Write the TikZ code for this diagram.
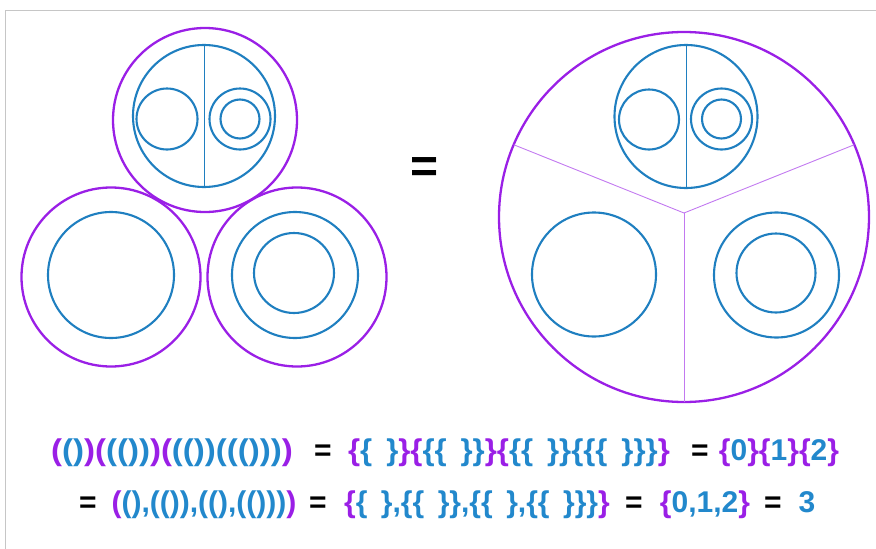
\documentclass[tikz,border=0pt]{standalone}
\usepackage{fontspec}
\setmainfont{Liberation Sans}
\definecolor{vnpur}{HTML}{9A1FE6}
\definecolor{vnblu}{HTML}{1F7FC0}
\definecolor{vntxt}{HTML}{2288CC}
\newcommand{\pu}[1]{\textcolor{vnpur}{#1}}
\newcommand{\bl}[1]{\textcolor{vntxt}{#1}}
\newcommand{\vngap}{\hspace{0.45em}}

\tikzset{vnouter/.style={circle,draw=vnpur,line width=2.3pt,inner sep=0pt,outer sep=0pt,minimum size=#1},
         vninner/.style={circle,draw=vnblu,line width=2.1pt,inner sep=0pt,outer sep=0pt,minimum size=#1},
         vnsplit/.style={draw=vnpur!60,line width=0.9pt},
         vnaxis/.style={draw=vnblu,line width=1pt},
         vnrow/.style={font=\fontsize{30}{32}\selectfont\bfseries,inner sep=0pt,text height=21.8pt,text depth=6.3pt}}

\begin{document}
\begin{tikzpicture}[x=1pt,y=-1pt]
    \useasboundingbox (0,0) rectangle (876,549);
    \draw[gray!45,line width=1pt] (876,10) -- (5,10) -- (5,549);
    % left: three separate circles
    \node[vnouter=184] (top) at (205,120) {};
    \node[vninner=142] (topin) at (204,116) {};
    \draw[vnaxis] (topin.north) -- (topin.south);
    \node[vninner=61] (topa) at (167,119) {};
    \node[vninner=61] (topb) at (240,119) {};
    \node[vninner=39] (topbb) at (240,119) {};
    \node[vnouter=179] (bl) at (111,277) {};
    \node[vninner=126] (blin) at (111,275) {};
    \node[vnouter=179] (br) at (297,277) {};
    \node[vninner=126] (brin) at (295,275) {};
    \node[vninner=80] (brinin) at (294,273) {};
    \node[font=\fontsize{48}{48}\selectfont\bfseries] (eqbig) at (425,170) {=};
    % right: one circle cut in three
    \node[vnouter=370] (big) at (684,217) {};
    \coordinate (hub) at (684,213);
    \foreach \a in {157,23,270} \draw[vnsplit] (hub) -- (big.\a);
    \node[vninner=143] (bigin) at (686,116.5) {};
    \draw[vnaxis] (bigin.north) -- (bigin.south);
    \node[vninner=60] (biga) at (649,119.5) {};
    \node[vninner=61] (bigb) at (721.5,119) {};
    \node[vninner=39] (bigbb) at (721.5,119) {};
    \node[vninner=124] (bigl) at (594,274.5) {};
    \node[vninner=125] (bigr) at (776.5,275) {};
    \node[vninner=79] (bigrr) at (776,273) {};
    % the two rows of text
    \foreach \x/\y/\n in {323/453/a,700/453/b,88/505/c,318/505/d,634/505/e,773/505/f}
      \node[vnrow] (eq\n) at (\x,\y) {=};
    \node[vnrow] (rowaparen) at (172,453) {\scalebox{1.1}[1]{\pu{(}\bl{()}\pu{)}\pu{(}\bl{(())}\pu{)}\pu{(}\bl{(())((()))}\pu{)}}};
    \node[vnrow] (rowabrace) at (509,453) {\scalebox{1.035}[1]{\pu{\{}\bl{\{\vngap\}}\pu{\}}\pu{\{}\bl{\{\{\vngap\}\}}\pu{\}}\pu{\{}\bl{\{\{\vngap\}\}\{\{\{\vngap\}\}\}}\pu{\}}}};
    \node[vnrow] (rowanum) at (779,453) {\pu{\{}\bl{0}\pu{\}}\pu{\{}\bl{1}\pu{\}}\pu{\{}\bl{2}\pu{\}}};
    \node[vnrow] (rowbparen) at (204,505) {\pu{(}\bl{(),(()),((),(()))}\pu{)}};
    \node[vnrow] (rowbbrace) at (477,505) {\pu{\{}\bl{\{\vngap\},\{\{\vngap\}\},\{\{\vngap\},\{\{\vngap\}\}\}}\pu{\}}};
    \node[vnrow] (rowbnum) at (705,505) {\pu{\{}\bl{0,1,2}\pu{\}}};
    \node[vnrow] (rowbthree) at (807,505) {\bl{3}};
  \end{tikzpicture}
\end{document}
